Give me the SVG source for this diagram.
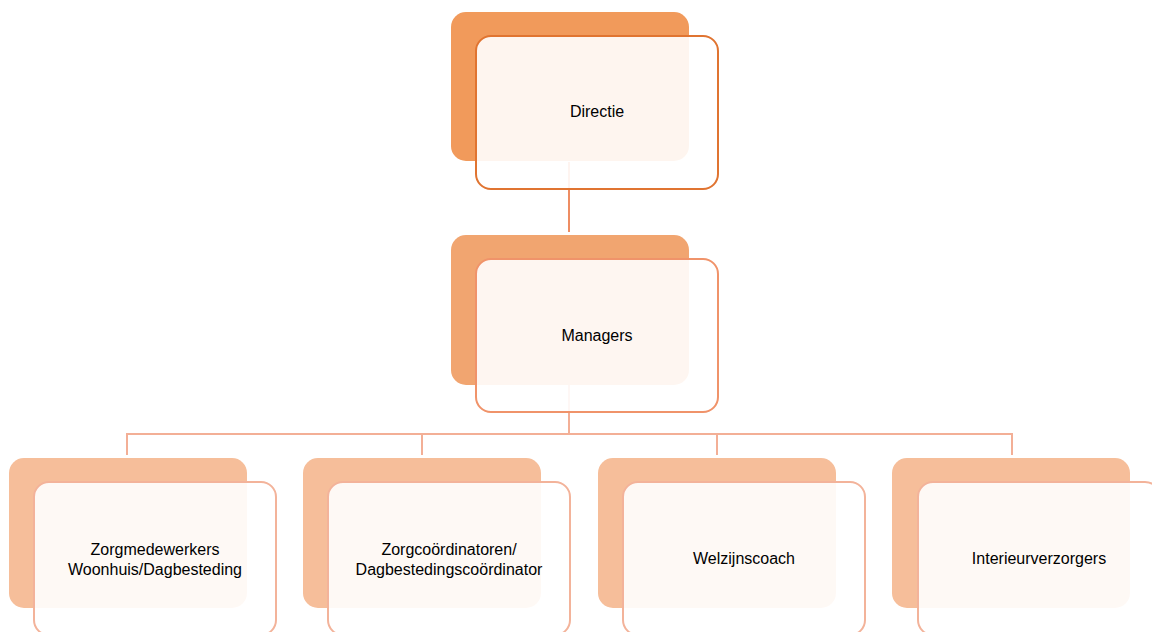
<svg xmlns="http://www.w3.org/2000/svg" width="1152" height="632" viewBox="0 0 1152 632">
<style>
.front{fill:#ffffff;fill-opacity:0.9;stroke-width:2}
.lbl{font-family:"Liberation Sans",Arial,sans-serif;font-size:16px;fill:#000;text-anchor:middle}
.l0{fill:#F19A5B}
.s0{stroke:#E07431}
.l1{fill:#F1A570}
.s1{stroke:#F0936A}
.l2{fill:#F6BE9A}
.s2{stroke:#F3B39A}
.c1{stroke:#EE8D63;stroke-width:2;fill:none}
.c2{stroke:#F3AF96;stroke-width:2;fill:none}
</style>
<rect width="1152" height="632" fill="#ffffff"/>
<g id="back">
<rect class="l0" x="451" y="12" width="238" height="149" rx="15"/>
<rect class="l1" x="451" y="235" width="238" height="150" rx="15"/>
<rect class="l2" x="9" y="458" width="238" height="150" rx="15"/>
<rect class="l2" x="303" y="458" width="238" height="150" rx="15"/>
<rect class="l2" x="598" y="458" width="238" height="150" rx="15"/>
<rect class="l2" x="892" y="458" width="238" height="150" rx="15"/>
</g>
<g id="connectors">
<line class="c1" x1="569" y1="162" x2="569" y2="232"/>
<polyline class="c2" points="569,385 569,434"/>
<polyline class="c2" points="127,455 127,434 1012,434 1012,455"/>
<line class="c2" x1="422" y1="434" x2="422" y2="455"/>
<line class="c2" x1="717" y1="434" x2="717" y2="455"/>
</g>
<g id="directie">
<rect class="front s0" x="476" y="36" width="242" height="153" rx="15"/>
<text class="lbl" x="597" y="117">Directie</text>
</g>
<g id="managers">
<rect class="front s1" x="476" y="259" width="242" height="153" rx="15"/>
<text class="lbl" x="597" y="341">Managers</text>
</g>
<g id="zorgmedewerkers">
<rect class="front s2" x="34" y="482" width="242" height="153" rx="15"/>
<text class="lbl" x="155" y="555">Zorgmedewerkers</text>
<text class="lbl" x="155" y="575">Woonhuis/Dagbesteding</text>
</g>
<g id="zorgcoordinatoren">
<rect class="front s2" x="328" y="482" width="242" height="153" rx="15"/>
<text class="lbl" x="449" y="555">Zorgcoördinatoren/</text>
<text class="lbl" x="449" y="575">Dagbestedingscoördinator</text>
</g>
<g id="welzijnscoach">
<rect class="front s2" x="623" y="482" width="242" height="153" rx="15"/>
<text class="lbl" x="744" y="564">Welzijnscoach</text>
</g>
<g id="interieurverzorgers">
<rect class="front s2" x="918" y="482" width="242" height="153" rx="15"/>
<text class="lbl" x="1039" y="564">Interieurverzorgers</text>
</g>
</svg>
